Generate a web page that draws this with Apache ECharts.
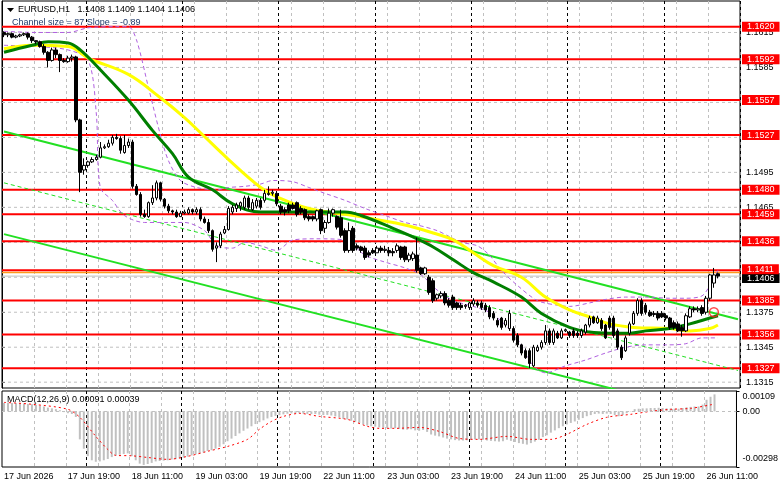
<!DOCTYPE html>
<html>
<head>
<meta charset="utf-8">
<script src="https://cdn.jsdelivr.net/npm/echarts@6/dist/echarts.min.js"></script>
<style>
  html, body { margin: 0; padding: 0; background: #fff; }
  #chart-id { width: 781px; height: 489px; }
</style>
</head>
<body>
<div id="chart-id"></div>
<script>
// ---- data ----
var slotCount = 184; // bars + empty space on the right
var tickLabels = ['17 Jun 2026', '17 Jun 19:00', '18 Jun 11:00', '19 Jun 03:00', '19 Jun 19:00', '22 Jun 11:00',
  '23 Jun 03:00', '23 Jun 19:00', '24 Jun 11:00', '25 Jun 03:00', '25 Jun 19:00', '26 Jun 11:00'];
var daySeparators = [21, 45, 69, 93, 117, 141, 165];

var opens = [
  1.1615,1.1613,1.1614,1.1611,1.1612,1.1613,1.1614,1.1611,1.1608,1.1607,
  1.1603,1.1598,1.1591,1.1600,1.1596,1.1591,1.1590,1.1593,1.1594,1.1540,
  1.1497,1.1501,1.1504,1.1506,1.1508,1.1516,1.1517,1.1520,1.1525,1.1524,
  1.1512,1.1518,1.1521,1.1483,1.1476,1.1459,1.1457,1.1469,1.1473,1.1486,
  1.1472,1.1466,1.1462,1.1461,1.1457,1.1460,1.1460,1.1463,1.1461,1.1463,
  1.1455,1.1452,1.1445,1.1430,1.1432,1.1443,1.1446,1.1461,1.1464,1.1466,
  1.1465,1.1473,1.1463,1.1466,1.1471,1.1471,1.1476,1.1477,1.1477,1.1466,
  1.1463,1.1467,1.1467,1.1469,1.1464,1.1463,1.1457,1.1457,1.1455,1.1463,
  1.1447,1.1452,1.1460,1.1457,1.1456,1.1445,1.1428,1.1447,1.1432,1.1431,
  1.1430,1.1426,1.1428,1.1426,1.1430,1.1428,1.1428,1.1427,1.1428,1.1431,
  1.1431,1.1420,1.1421,1.1424,1.1413,1.1408,1.1405,1.1402,1.1387,1.1389,
  1.1391,1.1385,1.1388,1.1383,1.1381,1.1380,1.1379,1.1382,1.1383,1.1383,
  1.1381,1.1379,1.1374,1.1368,1.1370,1.1364,1.1361,1.1361,1.1355,1.1347,
  1.1342,1.1342,1.1329,1.1342,1.1345,1.1349,1.1359,1.1349,1.1357,1.1353,
  1.1359,1.1358,1.1359,1.1357,1.1355,1.1358,1.1364,1.1371,1.1366,1.1368,
  1.1364,1.1370,1.1370,1.1359,1.1345,1.1342,1.1357,1.1365,1.1374,1.1385,
  1.1381,1.1375,1.1374,1.1374,1.1374,1.1372,1.1370,1.1366,1.1365,1.1362,
  1.1359,1.1371,1.1378,1.1377,1.1379,1.1375,1.1387,1.1400,1.1408
];
var closes = [
  1.1613,1.1614,1.1611,1.1612,1.1613,1.1614,1.1611,1.1608,1.1607,1.1603,
  1.1598,1.1591,1.1600,1.1596,1.1591,1.1590,1.1593,1.1594,1.1540,1.1495,
  1.1501,1.1504,1.1506,1.1508,1.1516,1.1517,1.1520,1.1525,1.1524,1.1514,
  1.1518,1.1521,1.1483,1.1476,1.1459,1.1457,1.1469,1.1473,1.1486,1.1472,
  1.1466,1.1462,1.1461,1.1457,1.1460,1.1461,1.1463,1.1461,1.1463,1.1455,
  1.1452,1.1445,1.1429,1.1432,1.1442,1.1446,1.1464,1.1465,1.1467,1.1469,
  1.1473,1.1465,1.1469,1.1471,1.1465,1.1477,1.1477,1.1478,1.1468,1.1461,
  1.1461,1.1462,1.1464,1.1459,1.1461,1.1456,1.1455,1.1455,1.1462,1.1445,
  1.1452,1.1460,1.1463,1.1448,1.1441,1.1428,1.1445,1.1428,1.1430,1.1428,
  1.1422,1.1424,1.1426,1.1430,1.1428,1.1429,1.1426,1.1426,1.1432,1.1422,
  1.1420,1.1424,1.1425,1.1411,1.1408,1.1413,1.1392,1.1385,1.1390,1.1391,
  1.1383,1.1381,1.1379,1.1379,1.1379,1.1381,1.1383,1.1385,1.1381,1.1379,
  1.1377,1.1371,1.1370,1.1364,1.1362,1.1368,1.1374,1.1351,1.1347,1.1340,
  1.1336,1.1331,1.1345,1.1345,1.1349,1.1359,1.1349,1.1359,1.1353,1.1359,
  1.1360,1.1355,1.1355,1.1355,1.1359,1.1364,1.1370,1.1366,1.1370,1.1361,
  1.1353,1.1362,1.1355,1.1345,1.1336,1.1353,1.1365,1.1374,1.1385,1.1374,
  1.1375,1.1372,1.1373,1.1370,1.1371,1.1370,1.1362,1.1362,1.1359,1.1359,
  1.1372,1.1378,1.1377,1.1378,1.1374,1.1387,1.1407,1.1407,1.1406
];
var lows = [
  1.1611,1.1611,1.1610,1.1610,1.1611,1.1612,1.1609,1.1606,1.1605,1.1602,
  1.1596,1.1585,1.1590,1.1593,1.1581,1.1589,1.1589,1.1590,1.1538,1.1478,
  1.1493,1.1499,1.1503,1.1505,1.1507,1.1515,1.1516,1.1518,1.1523,1.1511,
  1.1511,1.1516,1.1481,1.1475,1.1457,1.1456,1.1456,1.1467,1.1471,1.1470,
  1.1464,1.1460,1.1459,1.1456,1.1457,1.1459,1.1459,1.1459,1.1459,1.1453,
  1.1451,1.1443,1.1427,1.1418,1.1430,1.1442,1.1445,1.1459,1.1461,1.1462,
  1.1463,1.1463,1.1462,1.1464,1.1463,1.1469,1.1475,1.1475,1.1466,1.1459,
  1.1458,1.1460,1.1463,1.1457,1.1459,1.1454,1.1453,1.1453,1.1453,1.1442,
  1.1443,1.1451,1.1457,1.1446,1.1439,1.1426,1.1426,1.1426,1.1428,1.1426,
  1.1420,1.1422,1.1425,1.1426,1.1426,1.1426,1.1423,1.1423,1.1426,1.1420,
  1.1418,1.1418,1.1419,1.1409,1.1407,1.1407,1.1390,1.1383,1.1385,1.1387,
  1.1381,1.1379,1.1377,1.1377,1.1377,1.1378,1.1377,1.1380,1.1379,1.1377,
  1.1375,1.1369,1.1368,1.1362,1.1360,1.1362,1.1359,1.1349,1.1345,1.1338,
  1.1335,1.1327,1.1328,1.1341,1.1343,1.1347,1.1347,1.1347,1.1352,1.1352,
  1.1358,1.1353,1.1353,1.1353,1.1353,1.1356,1.1362,1.1365,1.1365,1.1359,
  1.1352,1.1360,1.1353,1.1343,1.1334,1.1341,1.1355,1.1364,1.1372,1.1372,
  1.1373,1.1371,1.1371,1.1368,1.1370,1.1368,1.1360,1.1360,1.1358,1.1354,
  1.1358,1.1370,1.1375,1.1375,1.1372,1.1373,1.1385,1.1396,1.1404
];
var highs = [
  1.1616,1.1615,1.1615,1.1613,1.1614,1.1615,1.1615,1.1612,1.1608,1.1608,
  1.1605,1.1599,1.1602,1.1602,1.1597,1.1593,1.1595,1.1596,1.1595,1.1541,
  1.1507,1.1505,1.1508,1.1510,1.1521,1.1519,1.1523,1.1527,1.1528,1.1526,
  1.1527,1.1524,1.1523,1.1485,1.1478,1.1463,1.1470,1.1484,1.1488,1.1487,
  1.1473,1.1468,1.1463,1.1463,1.1462,1.1463,1.1465,1.1464,1.1465,1.1465,
  1.1457,1.1455,1.1446,1.1435,1.1444,1.1449,1.1466,1.1467,1.1469,1.1470,
  1.1475,1.1475,1.1472,1.1473,1.1473,1.1480,1.1483,1.1480,1.1479,1.1468,
  1.1465,1.1469,1.1469,1.1470,1.1466,1.1464,1.1459,1.1458,1.1463,1.1464,
  1.1454,1.1464,1.1464,1.1458,1.1463,1.1447,1.1452,1.1449,1.1434,1.1432,
  1.1432,1.1428,1.1430,1.1432,1.1432,1.1432,1.1431,1.1430,1.1434,1.1432,
  1.1432,1.1426,1.1427,1.1439,1.1414,1.1414,1.1407,1.1404,1.1391,1.1393,
  1.1393,1.1387,1.1390,1.1384,1.1383,1.1382,1.1384,1.1387,1.1385,1.1385,
  1.1383,1.1381,1.1376,1.1370,1.1371,1.1370,1.1377,1.1363,1.1357,1.1348,
  1.1344,1.1344,1.1347,1.1347,1.1351,1.1364,1.1361,1.1361,1.1359,1.1361,
  1.1361,1.1359,1.1361,1.1359,1.1361,1.1365,1.1372,1.1372,1.1372,1.1370,
  1.1365,1.1372,1.1372,1.1361,1.1347,1.1355,1.1367,1.1376,1.1387,1.1387,
  1.1383,1.1377,1.1376,1.1376,1.1376,1.1374,1.1371,1.1368,1.1367,1.1364,
  1.1374,1.1380,1.1380,1.1380,1.1381,1.1389,1.1408,1.1413,1.1409
];

// moving averages, sampled at bar indexes [bar, price]
var maSlow = [[0,1.1601],[7,1.1604],[16,1.1603],[21,1.1593],[31,1.1579],[39,1.1559],[45,1.1542],[49,1.1529],
  [56,1.1506],[64,1.1482],[68,1.1474],[76,1.1464],[89,1.1457],[97,1.1452],[101,1.1449],[107,1.1443],[112,1.1437],
  [117,1.1426],[122,1.1415],[129,1.1405],[135,1.1388],[141,1.1377],[146,1.1371],[151,1.1365],[157,1.1362],
  [166,1.1361],[171,1.1359],[176,1.1361],[178,1.1364]];
var maFast = [[0,1.1598],[7,1.1604],[11,1.1607],[16,1.1606],[19,1.1600],[24,1.1583],[31,1.1557],[37,1.1531],
  [42,1.1511],[46,1.1491],[52,1.1480],[57,1.1468],[64,1.1461],[85,1.1461],[89,1.1458],[97,1.1447],[103,1.1438],
  [107,1.1431],[112,1.1420],[117,1.1409],[122,1.1401],[129,1.1388],[134,1.1374],[141,1.1362],[146,1.1358],
  [151,1.1357],[156,1.1357],[160,1.1359],[166,1.1361],[171,1.1365],[176,1.1370],[178,1.1372]];
var bandUpper = [[0,1.1616],[8,1.1615],[16,1.1615],[21,1.1619],[28,1.1620],[31,1.1620],[33,1.1609],[36,1.1568],
  [39,1.1527],[41,1.1505],[44,1.1488],[48,1.1482],[53,1.1480],[56,1.1482],[60,1.1483],[64,1.1485],[67,1.1488],
  [72,1.1487],[76,1.1482],[80,1.1477],[85,1.1471],[90,1.1464],[95,1.1458],[100,1.1452],[104,1.1449],[108,1.1445],
  [111,1.1440],[114,1.1435],[118,1.1432],[121,1.1424],[124,1.1411],[128,1.1398],[133,1.1385],[138,1.1381],
  [141,1.1380],[146,1.1383],[150,1.1386],[155,1.1388],[160,1.1388],[166,1.1387],[170,1.1387],[174,1.1389],
  [176,1.1398],[178,1.1411]];
var bandLower = [[0,1.1604],[8,1.1603],[16,1.1600],[21,1.1591],[23,1.1546],[24,1.1482],[27,1.1471],[30,1.1458],
  [35,1.1452],[40,1.1452],[45,1.1452],[50,1.1445],[53,1.1432],[57,1.1430],[60,1.1435],[64,1.1432],[68,1.1428],
  [72,1.1437],[78,1.1438],[85,1.1437],[90,1.1424],[95,1.1418],[100,1.1413],[104,1.1407],[108,1.1394],[112,1.1385],
  [117,1.1380],[121,1.1375],[125,1.1364],[129,1.1347],[132,1.1329],[135,1.1323],[140,1.1329],[145,1.1334],
  [150,1.1340],[155,1.1345],[160,1.1347],[165,1.1347],[170,1.1348],[174,1.1353],[178,1.1353]];

// regression channel ends [bar, price]
var channelUpper = [[0,1.1530],[183,1.1369]];
var channelMiddle = [[0,1.1486],[183,1.1325]];
var channelLower = [[0,1.1442],[183,1.1282]];

var redLevels = [1.1620,1.1592,1.1557,1.1527,1.1480,1.1459,1.1436,1.1411,1.1385,1.1356,1.1327];
var priceTicks = [1.1615,1.1585,1.1555,1.1525,1.1495,1.1465,1.1435,1.1405,1.1375,1.1345,1.1315];
var orangeLevel = 1.1409;
var bidLevel = 1.1406;
var signalMark = [[177, 1.1375]];

var macdHist = [
  0.00045,0.00046,0.00045,0.00044,0.00043,0.00042,0.00040,0.00038,0.00035,0.00030,
  0.00026,0.00020,0.00016,0.00012,0.00006,-0.00004,-0.00010,-0.00014,-0.00030,-0.00150,
  -0.00200,-0.00240,-0.00262,-0.00270,-0.00268,-0.00262,-0.00255,-0.00245,-0.00236,-0.00232,
  -0.00228,-0.00225,-0.00240,-0.00262,-0.00280,-0.00287,-0.00282,-0.00276,-0.00268,-0.00266,
  -0.00264,-0.00262,-0.00258,-0.00256,-0.00252,-0.00248,-0.00242,-0.00236,-0.00230,-0.00226,
  -0.00220,-0.00212,-0.00208,-0.00200,-0.00190,-0.00176,-0.00160,-0.00146,-0.00132,-0.00118,
  -0.00104,-0.00092,-0.00080,-0.00068,-0.00058,-0.00048,-0.00038,-0.00030,-0.00024,-0.00020,
  -0.00016,-0.00013,-0.00011,-0.00010,-0.00010,-0.00012,-0.00014,-0.00015,-0.00014,-0.00018,
  -0.00020,-0.00019,-0.00022,-0.00027,-0.00032,-0.00040,-0.00043,-0.00050,-0.00056,-0.00062,
  -0.00070,-0.00076,-0.00080,-0.00082,-0.00086,-0.00088,-0.00090,-0.00092,-0.00090,-0.00094,
  -0.00098,-0.00098,-0.00096,-0.00102,-0.00104,-0.00100,-0.00110,-0.00124,-0.00130,-0.00134,
  -0.00140,-0.00146,-0.00150,-0.00154,-0.00156,-0.00156,-0.00155,-0.00152,-0.00150,-0.00150,
  -0.00152,-0.00156,-0.00158,-0.00160,-0.00162,-0.00160,-0.00152,-0.00158,-0.00164,-0.00170,
  -0.00174,-0.00178,-0.00170,-0.00162,-0.00152,-0.00138,-0.00128,-0.00114,-0.00102,-0.00090,
  -0.00080,-0.00070,-0.00062,-0.00054,-0.00045,-0.00036,-0.00026,-0.00020,-0.00014,-0.00012,
  -0.00014,-0.00012,-0.00014,-0.00020,-0.00026,-0.00020,-0.00010,0.00002,0.00012,0.00014,
  0.00016,0.00016,0.00018,0.00018,0.00019,0.00018,0.00016,0.00015,0.00014,0.00014,
  0.00018,0.00022,0.00024,0.00026,0.00026,0.00036,0.00062,0.00078,0.00091
];
var macdSignal = [[0,0.00048],[7,0.00038],[16,0.00011],[19,-0.00032],[23,-0.00134],[26,-0.00204],[28,-0.00236],
  [32,-0.00238],[36,-0.00247],[41,-0.00257],[46,-0.00241],[51,-0.00214],[56,-0.00188],[61,-0.00150],[64,-0.00096],
  [67,-0.00054],[70,-0.00027],[74,-0.00011],[79,-0.00027],[86,-0.00043],[91,-0.00080],[94,-0.00091],[98,-0.00091],
  [104,-0.00086],[109,-0.00107],[114,-0.00145],[119,-0.00150],[126,-0.00134],[132,-0.00150],[137,-0.00150],
  [141,-0.00123],[146,-0.00070],[151,-0.00032],[157,-0.00016],[162,0],[167,0.00011],[172,0.00016],[178,0.00039]];
var macdTicks = [-0.00298, 0, 0.00109];

// ---- chart ----
var FONT = 'Liberation Sans';
var slots = [];
for (var i = 0; i < slotCount; i++) slots.push(String(i));

var candles = opens.map(function (o, k) { return [o, closes[k], lows[k], highs[k]]; });

function gridAxis(gridIndex, isDay, withLabels) {
  return {
    type: 'category', gridIndex: gridIndex, data: slots, boundaryGap: true,
    axisLine: { show: false }, axisTick: { show: false },
    axisLabel: withLabels ? {
      show: true, interval: function (idx) { return idx % 16 === 0 && idx / 16 < tickLabels.length; },
      formatter: function (v, idx) { return tickLabels[idx / 16]; },
      align: 'left', color: '#000', fontFamily: FONT, fontSize: 9, margin: 5
    } : { show: false },
    splitLine: {
      show: true,
      interval: isDay ? function (idx) { return daySeparators.indexOf(idx) >= 0; }
                      : function (idx) { return idx % 8 === 0 && idx > 0; },
      lineStyle: isDay ? { color: '#000', type: [3, 3], width: 1 } : { color: '#c0c0c0', type: [3, 3], width: 1 }
    }
  };
}

// full-width horizontal line drawn on a hidden 0..1 x axis
function hLine(v, color, width, type, z, labelBg, dy) {
  var s = {
    type: 'line', xAxisIndex: 4, yAxisIndex: 0, data: [[0, v], [1, v]], showSymbol: false, symbol: 'none',
    silent: true, z: z, lineStyle: { color: color, width: width, type: type }
  };
  if (labelBg) {
    s.endLabel = { show: true, distance: 2, offset: [0, dy || 0], formatter: v.toFixed(4), color: '#fff',
      backgroundColor: labelBg, padding: [1, 5, 0, 5], fontFamily: FONT, fontSize: 9, lineHeight: 9 };
  }
  return s;
}

function lineSeries(data, color, width, type, z, smooth) {
  return {
    type: 'line', xAxisIndex: 0, yAxisIndex: 0, data: data, showSymbol: false, symbol: 'none',
    smooth: smooth, silent: true, z: z, lineStyle: { color: color, width: width, type: type }
  };
}

var series = [];
priceTicks.forEach(function (v) { series.push(hLine(v, '#c0c0c0', 1, [3, 3], 1, null)); });
series.push(hLine(bidLevel, '#c0c0c0', 1, 'solid', 2, '#000', 2));
series.push(hLine(orangeLevel, '#ff9a1a', 1.5, 'solid', 3, null));
redLevels.forEach(function (v) { series.push(hLine(v, '#ff0000', 2, 'solid', 3, '#ff0000', v === 1.1411 ? -1 : 0)); });
series.push(
  lineSeries(channelLower, '#22e022', 2, 'solid', 4, false),
  lineSeries(channelMiddle, '#22e022', 1, [4, 3], 4, false),
  lineSeries(channelUpper, '#22e022', 2, 'solid', 4, false),
  lineSeries(bandUpper, '#b060e0', 1, [4, 3], 4, 0.3),
  lineSeries(bandLower, '#b060e0', 1, [4, 3], 4, 0.3),
  lineSeries(maSlow, '#ffff00', 3, 'solid', 5, 0.4),
  lineSeries(maFast, '#007f00', 3, 'solid', 6, 0.4),
  {
    name: 'EURUSD', type: 'candlestick', xAxisIndex: 0, yAxisIndex: 0, data: candles, z: 10,
    barWidth: 3, silent: true,
    itemStyle: { color: '#fff', color0: '#000', borderColor: '#000', borderColor0: '#000', borderWidth: 1 }
  },
  {
    type: 'scatter', xAxisIndex: 0, yAxisIndex: 0, data: signalMark, symbol: 'circle', symbolSize: 9, z: 11,
    silent: true, itemStyle: { color: 'rgba(0,0,0,0)', borderColor: '#ff2020', borderWidth: 1.5 }
  },
  {
    name: 'MACD', type: 'bar', xAxisIndex: 2, yAxisIndex: 1, data: macdHist, barWidth: 2, silent: true,
    itemStyle: { color: '#c0c0c0' }, z: 3,
    markLine: { silent: true, symbol: ['none', 'none'], label: { show: false },
      lineStyle: { color: '#c0c0c0', type: [3, 3], width: 1 }, data: [{ yAxis: 0 }] }
  },
  {
    name: 'Signal', type: 'line', xAxisIndex: 2, yAxisIndex: 1, data: macdSignal, showSymbol: false,
    symbol: 'none', smooth: 0.3, silent: true, z: 4,
    lineStyle: { color: '#ff0000', width: 1, type: [2, 3] }
  }
);

var option = {
  animation: false,
  backgroundColor: '#fff',
  grid: [
    { left: 2, right: 41, top: 1, bottom: 101, show: true, borderColor: '#000', borderWidth: 1 },
    { left: 2, right: 41, top: 391, bottom: 22, show: true, borderColor: '#000', borderWidth: 1 }
  ],
  xAxis: [gridAxis(0, false, false), gridAxis(0, true, false), gridAxis(1, false, true), gridAxis(1, true, false),
    { type: 'value', gridIndex: 0, min: 0, max: 1, show: false }],
  yAxis: [
    {
      type: 'value', gridIndex: 0, position: 'right', min: 1.1310, max: 1.1642, scale: true,
      axisLine: { show: true, lineStyle: { color: '#000' } },
      axisTick: { show: true, length: 3, customValues: priceTicks, lineStyle: { color: '#000' } },
      axisLabel: { customValues: priceTicks, color: '#000', fontFamily: FONT, fontSize: 9, margin: 6,
        formatter: function (v) { return v.toFixed(4); } },
      splitLine: { show: false }
    },
    {
      type: 'value', gridIndex: 1, position: 'right', min: -0.00298, max: 0.00109,
      axisLine: { show: true, lineStyle: { color: '#000' } },
      axisTick: { show: true, length: 3, customValues: macdTicks, lineStyle: { color: '#000' } },
      axisLabel: {
        customValues: macdTicks, color: '#000', fontFamily: FONT, fontSize: 9, margin: 6,
        formatter: function (v) {
          if (v === 0) return '0.00';
          return v > 0 ? '{top|' + v.toFixed(5) + '}' : '{bot|' + v.toFixed(5) + '}';
        },
        rich: {
          top: { padding: [12, 0, 0, 0], fontFamily: FONT, fontSize: 9, color: '#000' },
          bot: { padding: [0, 0, 16, 0], fontFamily: FONT, fontSize: 9, color: '#000' }
        }
      },
      splitLine: { show: false }
    }
  ],
  graphic: [
    { type: 'polygon', z: 100, shape: { points: [[7, 8], [14, 8], [10.5, 12]] }, style: { fill: '#000' } },
    { type: 'text', left: 18, top: 5, z: 100,
      style: { text: 'EURUSD,H1   1.1408 1.1409 1.1404 1.1406', font: '9px "Liberation Sans"', fill: '#000' } },
    { type: 'text', left: 12, top: 18, z: 100,
      style: { text: 'Channel size = 87 Slope = -0.89', font: '9px "Liberation Sans"', fill: '#1f3a6b' } },
    { type: 'text', left: 7, top: 395, z: 100,
      style: { text: 'MACD(12,26,9) 0.00091 0.00039', font: '9px "Liberation Sans"', fill: '#000' } }
  ],
  series: series
};

var myChart = echarts.init(document.getElementById('chart-id'));
myChart.setOption(option);
</script>
</body>
</html>
